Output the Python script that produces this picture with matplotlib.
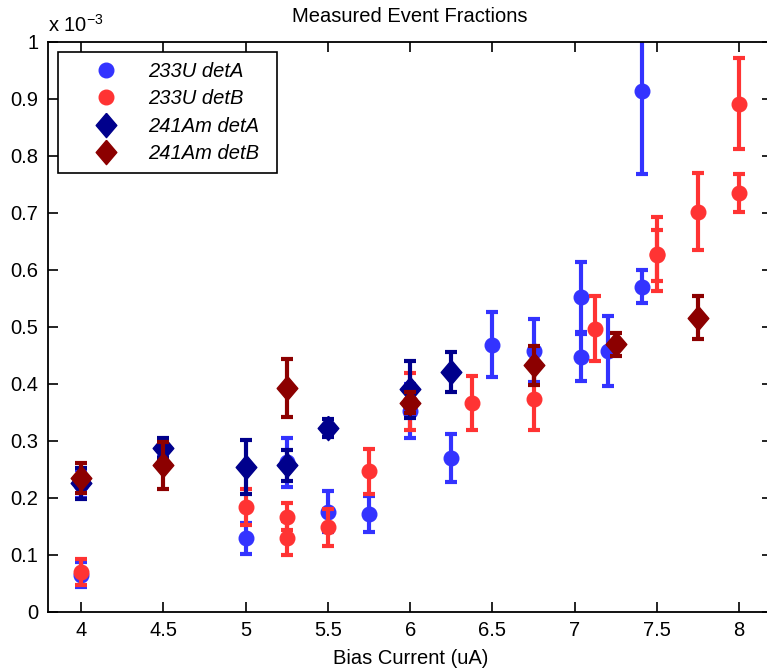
import matplotlib
matplotlib.use("Agg")
import matplotlib.pyplot as plt
from matplotlib.lines import Line2D
from matplotlib.ticker import FuncFormatter, MultipleLocator

# event fractions in units of 1e-3, with 1-sigma errors
u233_a_x = [4.0, 4.0, 4.5, 5.0, 5.25, 5.5, 5.75, 6.0, 6.25, 6.5, 6.75, 7.04, 7.04, 7.2, 7.41, 7.41]
u233_a_y = [0.065, 0.224, 0.287, 0.129, 0.262, 0.175, 0.171, 0.352, 0.270, 0.468, 0.458, 0.552, 0.446, 0.457, 0.570, 0.913]
u233_a_err = [0.022, 0.024, 0.016, 0.027, 0.043, 0.036, 0.032, 0.048, 0.042, 0.057, 0.055, 0.062, 0.041, 0.061, 0.029, 0.145]

u233_b_x = [4.0, 5.0, 5.25, 5.25, 5.5, 5.75, 6.0, 6.375, 6.75, 7.125, 7.5, 7.5, 7.75, 8.0, 8.0]
u233_b_y = [0.070, 0.184, 0.167, 0.129, 0.148, 0.246, 0.368, 0.366, 0.373, 0.496, 0.628, 0.625, 0.702, 0.891, 0.735]
u233_b_err = [0.023, 0.032, 0.023, 0.030, 0.032, 0.039, 0.050, 0.048, 0.054, 0.057, 0.065, 0.045, 0.068, 0.080, 0.033]

am241_a_x = [4.0, 4.5, 5.0, 5.25, 5.5, 6.0, 6.25]
am241_a_y = [0.225, 0.287, 0.254, 0.257, 0.322, 0.390, 0.421]
am241_a_err = [0.027, 0.018, 0.048, 0.027, 0.016, 0.050, 0.035]

am241_b_x = [4.0, 4.5, 5.25, 6.0, 6.75, 7.25, 7.75]
am241_b_y = [0.235, 0.257, 0.392, 0.367, 0.432, 0.469, 0.516]
am241_b_err = [0.026, 0.041, 0.051, 0.019, 0.034, 0.020, 0.038]

labels = ["233U detA", "233U detB", "241Am detA", "241Am detB"]

plt.rcParams["font.family"] = ["Liberation Sans", "DejaVu Sans"]
plt.rcParams["mathtext.default"] = "regular"
fs = 14.5

# slightly tall diamond, like the MATLAB 'd' marker
diamond = [(0, 1), (0.85, 0), (0, -1), (-0.85, 0), (0, 1)]

fig = plt.figure(figsize=(7.67, 6.72), dpi=100)
W, H = 767.0, 672.0
ax = fig.add_axes([48.3 / W, (H - 611.7) / H, 723.8 / W, 570.0 / H])

series = [
    (u233_a_x, u233_a_y, u233_a_err, "o", (0.2, 0.2, 1.0), 10.5),
    (u233_b_x, u233_b_y, u233_b_err, "o", (1.0, 0.2, 0.2), 10.5),
    (am241_a_x, am241_a_y, am241_a_err, diamond, (0.0, 0.0, 0.55), 17.5),
    (am241_b_x, am241_b_y, am241_b_err, diamond, (0.55, 0.0, 0.0), 17.5),
]

handles = []
for (x, y, e, m, c, ms), lab in zip(series, labels):
    ax.errorbar(x, y, yerr=e, fmt="none", ecolor=c,
                elinewidth=3.0, capsize=4.5, capthick=3.0)
    ax.plot(x, y, ls="none", marker=m, color=c, ms=ms, mec=c, mfc=c)
    handles.append(Line2D([], [], ls="none", marker=m, color=c, ms=ms, label=lab))

ax.set_xlim(3.8, 8.2)
ax.set_ylim(0, 1)
ax.xaxis.set_major_locator(MultipleLocator(0.5))
ax.yaxis.set_major_locator(MultipleLocator(0.1))
ax.yaxis.set_major_formatter(FuncFormatter(lambda v, p: "%g" % round(v, 2)))
ax.xaxis.set_major_formatter(FuncFormatter(lambda v, p: "%g" % v))
ax.tick_params(direction="in", length=7, width=1.2, top=True, right=True,
               labelsize=fs, pad=7)
for s in ax.spines.values():
    s.set_linewidth(1.3)

ax.set_xlabel("Bias Current (uA)", fontsize=fs, labelpad=6)
ax.set_title("Measured Event Fractions", fontsize=fs, pad=14)
fig.text(48 / W, 1 - 32 / H, r"x 10$^{-3}$", fontsize=fs, ha="left", va="baseline")

lx0 = (58.3 - 48.3) / 723.8
ly1 = (611.7 - 51.7) / 570.0
lw = (276.7 - 58.3) / 723.8
lh = (166.7 - 51.7) / 570.0
leg = ax.legend(handles=handles, loc="upper left",
                bbox_to_anchor=(lx0, ly1 - lh, lw, lh), mode="expand",
                borderaxespad=0, fancybox=False, framealpha=1, edgecolor="black",
                prop={"size": fs, "style": "italic"}, labelspacing=0.42,
                handletextpad=0.25, borderpad=0.5, handlelength=3.7)
leg.get_frame().set_linewidth(1.2)

fig.savefig("out.png", dpi=100)
